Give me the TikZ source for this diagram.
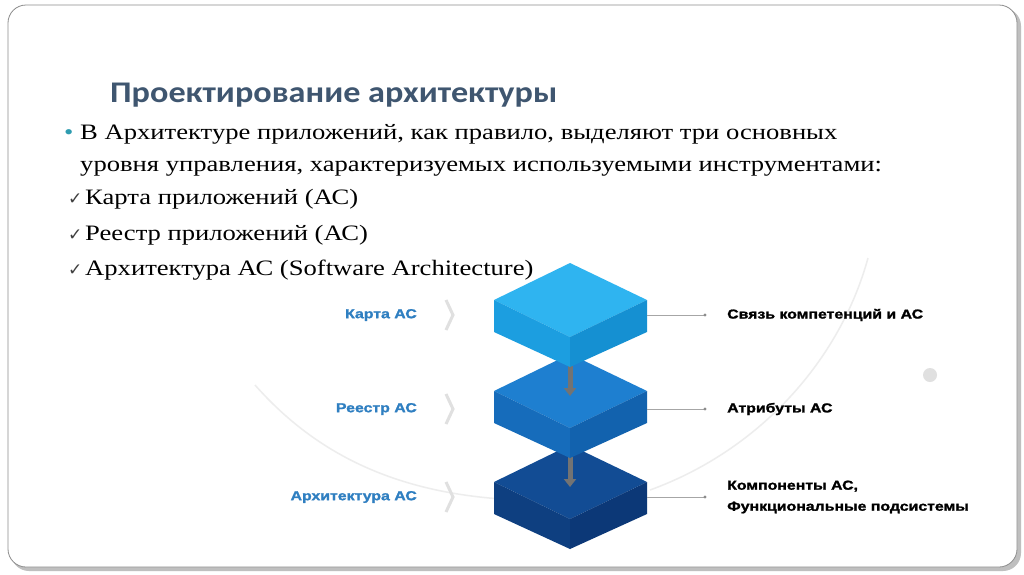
\documentclass[tikz,border=0pt]{standalone}
\usepackage{fontspec}
\setmainfont{Liberation Serif}[FakeStretch=1.21]
\newfontfamily\titlefont{Carlito}[FakeStretch=1.14]
\newfontfamily\labfont{Liberation Sans}[FakeStretch=1.22,FakeBold=1.5]
\newfontfamily\symfont{DejaVu Sans}
\usetikzlibrary{arrows.meta}
\definecolor{titlec}{HTML}{3F5670}
\definecolor{bulc}{HTML}{2E9CB0}
\definecolor{labc}{HTML}{2F7FC1}
\definecolor{topA}{HTML}{2FB4F0}\definecolor{leftA}{HTML}{1C9EE0}\definecolor{rightA}{HTML}{1590D2}
\definecolor{topB}{HTML}{1E7FD0}\definecolor{leftB}{HTML}{166CBB}\definecolor{rightB}{HTML}{1262AE}
\definecolor{topC}{HTML}{124C94}\definecolor{leftC}{HTML}{0E3F80}\definecolor{rightC}{HTML}{0C3877}
\tikzset{
 body/.style={anchor=base west,font=\fontsize{22}{26}\selectfont,inner sep=0},
 chk/.style={anchor=base west,inner sep=0,font=\symfont\fontsize{17}{18}\selectfont,text=black!75},
 lab/.style={anchor=east,font=\labfont\bfseries\fontsize{13}{15}\selectfont,text=labc,inner sep=0},
 rlab/.style={anchor=west,font=\labfont\bfseries\fontsize{13}{15}\selectfont,inner sep=0,align=left},
 chev/.style={draw=black!12,line width=3pt},
 conn/.style={draw=black!35,line width=0.6pt},
 darr/.style={draw=black!55,line width=5pt,-{Triangle[width=12pt,length=8pt]}}
}
\newcommand{\blockat}[4]{% y offset, top, left, right
 \fill[#2] (494,#1+300) -- (570,#1+263) -- (647,#1+300) -- (570,#1+337) -- cycle;
 \fill[#3] (494,#1+300) -- (570,#1+337) -- (570,#1+367) -- (494,#1+332) -- cycle;
 \fill[#4] (647,#1+300) -- (570,#1+337) -- (570,#1+367) -- (647,#1+332) -- cycle;
}
\begin{document}
\begin{tikzpicture}[x=1pt,y=-1pt]
\useasboundingbox (0,0) rectangle (1024,574);
\fill[white] (0,0) rectangle (1024,574);
\fill[black!25,rounded corners=18pt] (11,8) rectangle (1021,571);
\filldraw[fill=white,draw=black!45,line width=0.8pt,rounded corners=18pt] (8,5) rectangle (1017,567);
% faint arcs
\draw[black!7,line width=1.5pt] (255,385) .. controls (330,470) and (430,505) .. (570,500);
\draw[black!7,line width=1.5pt] (650,490) .. controls (760,450) and (840,360) .. (868,258);
\fill[black!12] (930,375) circle (7);
\node[anchor=base west,inner sep=0,font=\titlefont\bfseries\fontsize{30}{32}\selectfont,text=titlec] (title) at (110,102) {Проектирование архитектуры};
\node[anchor=base west,inner sep=0,text=bulc,font=\fontsize{22}{24}\selectfont] (bul) at (64,139) {•};
\node[body] (l1) at (80,139) {В Архитектуре приложений, как правило, выделяют три основных};
\node[body] (l2) at (80,171) {уровня управления, характеризуемых используемыми инструментами:};
\node[chk] (c1) at (68,204) {✓};
\node[chk] (c2) at (68,240) {✓};
\node[chk] (c3) at (68,275) {✓};
\node[body] (i1) at (85,204) {Карта приложений (АС)};
\node[body] (i2) at (85,240) {Реестр приложений (АС)};
\node[body] (i3) at (85,275) {Архитектура АС (Software Architecture)};
% blocks (bottom first)
\blockat{182}{topC}{leftC}{rightC}
\draw[darr] (570,452) -- (570,487);
\blockat{91}{topB}{leftB}{rightB}
\draw[darr] (570,362) -- (570,396);
\blockat{0}{topA}{leftA}{rightA}
% left labels and chevrons
\node[lab] (k1) at (417,315) {Карта АС};
\node[lab] (k2) at (417,409) {Реестр АС};
\node[lab] (k3) at (417,497) {Архитектура АС};
\foreach \yy in {315,409,497}{\draw[chev] (446,\yy-15) -- (453,\yy) -- (446,\yy+15);}
% right connectors
\coordinate (s1) at (647,315); \coordinate (s2) at (647,409); \coordinate (s3) at (647,497);
\coordinate (e1) at (705,315); \coordinate (e2) at (705,409); \coordinate (e3) at (705,497);
\foreach \i in {1,2,3}{\draw[conn] (s\i) -- (e\i); \fill[black!45] (e\i) circle (1.6);}
\node[rlab] (r1) at (727,315) {Связь компетенций и АС};
\node[rlab] (r2) at (727,409) {Атрибуты АС};
\node[rlab] (r3) at (727,497) {Компоненты АС,\\[6pt]Функциональные подсистемы};
\end{tikzpicture}
\end{document}
